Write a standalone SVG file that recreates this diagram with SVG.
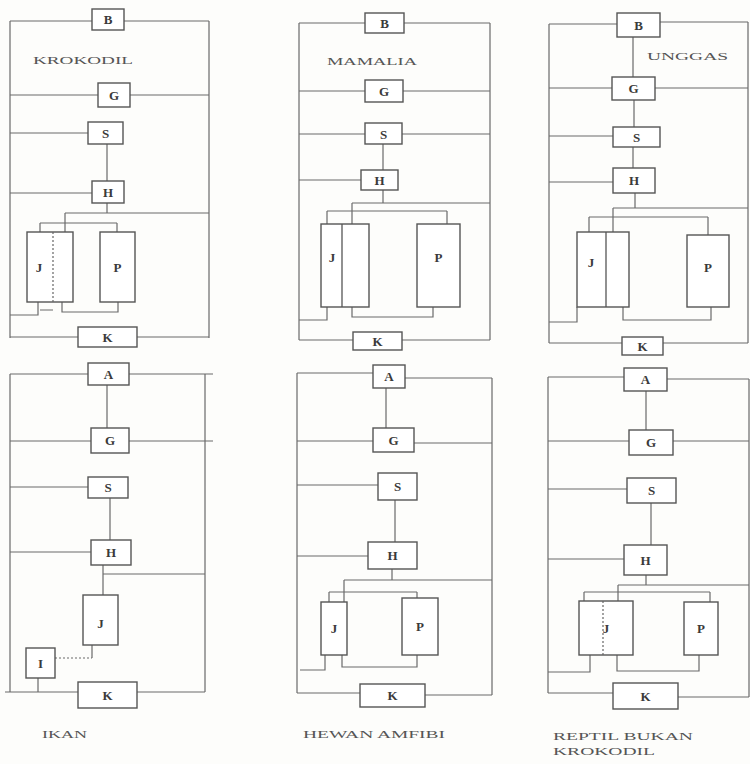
<svg xmlns="http://www.w3.org/2000/svg" width="750" height="764" viewBox="0 0 750 764">
<style>
.bg{fill:#fdfdfb}
.c{fill:none;stroke:#6a6a6a;stroke-width:1.2}
.d{fill:none;stroke:#6a6a6a;stroke-width:1.2;stroke-dasharray:2 2}
.n rect{fill:#ffffff;stroke:#555;stroke-width:1.4}
.n line.dv{stroke:#666;stroke-width:1.2;stroke-dasharray:2 2}
.n line.sv{stroke:#555;stroke-width:1.3}
.n text{font-family:"Liberation Serif","DejaVu Serif",serif;font-size:13px;font-weight:bold;fill:#3a3a3a;text-anchor:middle}
.t{font-family:"Liberation Serif","DejaVu Serif",serif;font-size:9.5px;fill:#555}
</style>
<rect class="bg" x="0" y="0" width="750" height="764"/>

<g id="connectors">
<!-- Panel 1 KROKODIL -->
<path class="c" d="M10,21V338 M209,21V338 M10,21H92 M124,21H209 M10,95H98 M130,95H209 M10,133H88 M107,144V181 M10,193H92 M107,203V213 M65,213H209 M65,213V223 M40,223H117 M40,223V232 M65,223V232 M117,223V232 M38,302V315H10 M40,310H53 M62,302V312H118V302 M10,337H78 M137,337H209"/>
<!-- Panel 2 MAMALIA -->
<path class="c" d="M299,23V340 M490,23V340 M299,23H365 M404,23H490 M299,91H365 M403,91H490 M299,134H365 M402,134H490 M383,144V170 M299,180H361 M383,190V203 M352,203H490 M352,203V224 M327,211H447 M327,211V224 M447,211V224 M327,307V320H299 M352,307V317H433V307 M299,340H353 M402,340H490"/>
<!-- Panel 3 UNGGAS -->
<path class="c" d="M549,24V343 M748,22V343 M549,24H617 M660,22H748 M633,37V77 M549,88H612 M655,88H748 M634,100V127 M549,136H613 M633,147V168 M549,182H613 M635,193V208 M613,208H748 M613,208V232 M589,217H708 M589,217V232 M708,217V235 M577,307V322H549 M623,307V320H711V307 M549,343H622 M663,343H748"/>
<!-- Panel 4 IKAN -->
<path class="c" d="M10,374V692 M205,374V692 M10,374H88 M129,374H213 M107,385V428 M10,441H91 M129,441H213 M10,487H88 M110,498V540 M10,552H91 M103,565V595 M103,574H205 M92,645V658 M38,678V692 M5,692H78 M137,692H205"/>
<path class="d" d="M55,658H92"/>
<!-- Panel 5 HEWAN AMFIBI -->
<path class="c" d="M297,373V693 M492,378V695 M297,373H373 M405,378H492 M386,388V428 M297,441H373 M414,443H492 M297,485H378 M395,500V542 M297,556H368 M392,569V580 M344,580H492 M344,580V602 M329,592H417 M329,592V602 M417,592V598 M325,655V670H300 M342,655V667H417V655 M297,693H360 M425,695H492"/>
<!-- Panel 6 REPTIL BUKAN KROKODIL -->
<path class="c" d="M548,377V693 M749,379V697 M548,377H624 M667,379H749 M646,391V430 M548,441H629 M673,441H749 M548,489H627 M651,503V545 M548,559H624 M646,575V585 M618,585H749 M618,585V601 M584,592H710 M584,592V601 M710,592V602 M590,655V672H548 M617,655V671H699V655 M548,693H613 M678,697H749"/>
</g>

<!-- Panel 1 nodes -->
<g id="p1-B" class="n"><rect x="92" y="9" width="32" height="21"/><text x="108" y="24">B</text></g>
<g id="p1-G" class="n"><rect x="98" y="83" width="32" height="24"/><text x="114" y="100">G</text></g>
<g id="p1-S" class="n"><rect x="88" y="122" width="35" height="22"/><text x="105.5" y="138">S</text></g>
<g id="p1-H" class="n"><rect x="92" y="181" width="32" height="22"/><text x="108" y="197">H</text></g>
<g id="p1-J" class="n"><rect x="27" y="232" width="46" height="70"/><line class="dv" x1="53" y1="232" x2="53" y2="302"/><text x="39" y="272">J</text></g>
<g id="p1-P" class="n"><rect x="100" y="232" width="35" height="70"/><text x="117.5" y="272">P</text></g>
<g id="p1-K" class="n"><rect x="78" y="327" width="59" height="20"/><text x="107.5" y="342">K</text></g>
<text class="t" x="33" y="64" textLength="100" lengthAdjust="spacingAndGlyphs">KROKODIL</text>

<!-- Panel 2 nodes -->
<g id="p2-B" class="n"><rect x="365" y="13" width="39" height="20"/><text x="384.5" y="28">B</text></g>
<g id="p2-G" class="n"><rect x="365" y="80" width="38" height="22"/><text x="384" y="96">G</text></g>
<g id="p2-S" class="n"><rect x="365" y="123" width="37" height="21"/><text x="383.5" y="139">S</text></g>
<g id="p2-H" class="n"><rect x="361" y="170" width="37" height="20"/><text x="379.5" y="185">H</text></g>
<g id="p2-J" class="n"><rect x="321" y="224" width="48" height="83"/><line class="sv" x1="342" y1="224" x2="342" y2="307"/><text x="332" y="262">J</text></g>
<g id="p2-P" class="n"><rect x="417" y="224" width="43" height="83"/><text x="438.5" y="262">P</text></g>
<g id="p2-K" class="n"><rect x="353" y="332" width="49" height="18"/><text x="377.5" y="346">K</text></g>
<text class="t" x="327" y="65" textLength="90" lengthAdjust="spacingAndGlyphs">MAMALIA</text>

<!-- Panel 3 nodes -->
<g id="p3-B" class="n"><rect x="617" y="13" width="43" height="24"/><text x="638.5" y="30">B</text></g>
<g id="p3-G" class="n"><rect x="612" y="77" width="43" height="23"/><text x="633.5" y="93">G</text></g>
<g id="p3-S" class="n"><rect x="613" y="127" width="47" height="20"/><text x="636.5" y="142">S</text></g>
<g id="p3-H" class="n"><rect x="613" y="168" width="42" height="25"/><text x="634" y="185">H</text></g>
<g id="p3-J" class="n"><rect x="577" y="232" width="52" height="75"/><line class="sv" x1="606" y1="232" x2="606" y2="307"/><text x="591" y="267">J</text></g>
<g id="p3-P" class="n"><rect x="687" y="235" width="42" height="72"/><text x="708" y="272">P</text></g>
<g id="p3-K" class="n"><rect x="622" y="337" width="41" height="18"/><text x="642.5" y="351">K</text></g>
<text class="t" x="647" y="60" textLength="81" lengthAdjust="spacingAndGlyphs">UNGGAS</text>

<!-- Panel 4 nodes -->
<g id="p4-A" class="n"><rect x="88" y="363" width="41" height="22"/><text x="108.5" y="379">A</text></g>
<g id="p4-G" class="n"><rect x="91" y="428" width="38" height="25"/><text x="110" y="445">G</text></g>
<g id="p4-S" class="n"><rect x="88" y="477" width="40" height="21"/><text x="108" y="492">S</text></g>
<g id="p4-H" class="n"><rect x="91" y="540" width="40" height="25"/><text x="111" y="557">H</text></g>
<g id="p4-J" class="n"><rect x="83" y="595" width="35" height="50"/><text x="100.5" y="628">J</text></g>
<g id="p4-I" class="n"><rect x="26" y="648" width="29" height="30"/><text x="40.5" y="668">I</text></g>
<g id="p4-K" class="n"><rect x="78" y="682" width="59" height="26"/><text x="107.5" y="700">K</text></g>
<text class="t" x="42" y="738" textLength="45" lengthAdjust="spacingAndGlyphs">IKAN</text>

<!-- Panel 5 nodes -->
<g id="p5-A" class="n"><rect x="373" y="365" width="32" height="23"/><text x="389" y="381">A</text></g>
<g id="p5-G" class="n"><rect x="373" y="428" width="41" height="24"/><text x="393.5" y="445">G</text></g>
<g id="p5-S" class="n"><rect x="378" y="473" width="39" height="27"/><text x="397.5" y="491">S</text></g>
<g id="p5-H" class="n"><rect x="368" y="542" width="49" height="27"/><text x="392.5" y="560">H</text></g>
<g id="p5-J" class="n"><rect x="321" y="602" width="26" height="53"/><text x="334" y="633">J</text></g>
<g id="p5-P" class="n"><rect x="402" y="598" width="36" height="57"/><text x="420" y="631">P</text></g>
<g id="p5-K" class="n"><rect x="360" y="684" width="65" height="23"/><text x="392.5" y="700">K</text></g>
<text class="t" x="303" y="738" textLength="142" lengthAdjust="spacingAndGlyphs">HEWAN AMFIBI</text>

<!-- Panel 6 nodes -->
<g id="p6-A" class="n"><rect x="624" y="368" width="43" height="23"/><text x="645.5" y="384">A</text></g>
<g id="p6-G" class="n"><rect x="629" y="430" width="44" height="25"/><text x="651" y="447">G</text></g>
<g id="p6-S" class="n"><rect x="627" y="478" width="49" height="25"/><text x="651.5" y="495">S</text></g>
<g id="p6-H" class="n"><rect x="624" y="545" width="43" height="30"/><text x="645.5" y="565">H</text></g>
<g id="p6-J" class="n"><rect x="579" y="601" width="54" height="54"/><line class="dv" x1="603" y1="601" x2="603" y2="655"/><text x="606" y="633">J</text></g>
<g id="p6-P" class="n"><rect x="684" y="602" width="34" height="53"/><text x="701" y="633">P</text></g>
<g id="p6-K" class="n"><rect x="613" y="683" width="65" height="26"/><text x="645.5" y="701">K</text></g>
<text class="t" x="553" y="740" textLength="140" lengthAdjust="spacingAndGlyphs">REPTIL BUKAN</text>
<text class="t" x="553" y="755" textLength="102" lengthAdjust="spacingAndGlyphs">KROKODIL</text>
</svg>
